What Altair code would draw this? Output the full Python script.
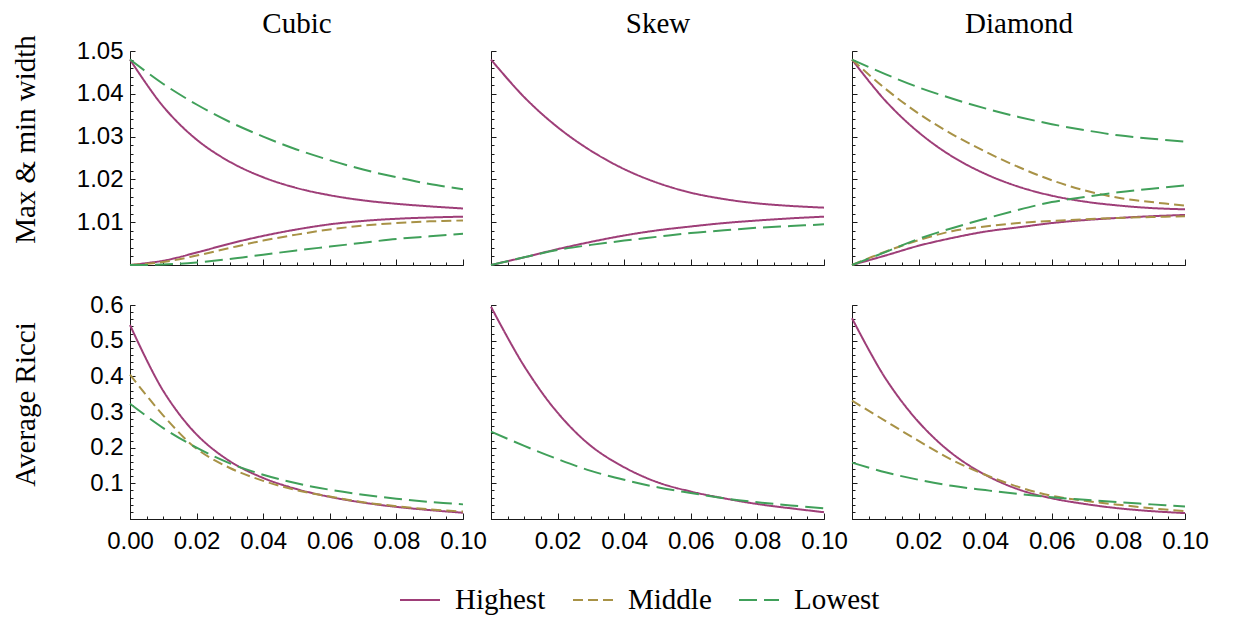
import altair as alt
import pandas as pd

# ---------------- data ----------------
x_vals = [0.00, 0.01, 0.02, 0.03, 0.04, 0.05, 0.06, 0.07, 0.08, 0.09, 0.10]

panels = ["Cubic", "Skew", "Diamond"]
series_names = ["Highest", "Middle", "Lowest"]
row_titles = ["Max & min width", "Average Ricci"]

# Max & min width (upper = max, lower = min)
cubic_highest_max = [1.0480, 1.0370, 1.0293, 1.0241, 1.0205, 1.0180, 1.0163, 1.0151, 1.0143, 1.0137, 1.0132]
cubic_highest_min = [1.0000, 1.0010, 1.0029, 1.0050, 1.0068, 1.0083, 1.0095, 1.0103, 1.0108, 1.0111, 1.0113]
cubic_middle_min = [1.0000, 1.0007, 1.0022, 1.0040, 1.0057, 1.0071, 1.0083, 1.0092, 1.0098, 1.0102, 1.0104]
cubic_lowest_max = [1.0480, 1.0423, 1.0375, 1.0334, 1.0300, 1.0270, 1.0245, 1.0223, 1.0205, 1.0189, 1.0177]
cubic_lowest_min = [1.0000, 1.0001, 1.0006, 1.0014, 1.0024, 1.0034, 1.0043, 1.0052, 1.0061, 1.0067, 1.0073]

skew_highest_max = [1.0480, 1.0392, 1.0322, 1.0267, 1.0224, 1.0192, 1.0169, 1.0154, 1.0144, 1.0138, 1.0134]
skew_highest_min = [1.0000, 1.0018, 1.0037, 1.0054, 1.0069, 1.0081, 1.0090, 1.0098, 1.0104, 1.0109, 1.0113]
skew_lowest_min = [1.0000, 1.0018, 1.0035, 1.0047, 1.0057, 1.0066, 1.0075, 1.0081, 1.0087, 1.0091, 1.0095]

diamond_highest_max = [1.0480, 1.0384, 1.0310, 1.0254, 1.0213, 1.0183, 1.0162, 1.0148, 1.0139, 1.0133, 1.0130]
diamond_highest_min = [1.0000, 1.0022, 1.0045, 1.0063, 1.0078, 1.0088, 1.0098, 1.0105, 1.0110, 1.0114, 1.0117]
diamond_middle_max = [1.0480, 1.0412, 1.0354, 1.0306, 1.0265, 1.0229, 1.0198, 1.0174, 1.0157, 1.0147, 1.0139]
diamond_middle_min = [1.0000, 1.0031, 1.0058, 1.0079, 1.0090, 1.0098, 1.0103, 1.0107, 1.0110, 1.0112, 1.0114]
diamond_lowest_max = [1.0480, 1.0446, 1.0415, 1.0389, 1.0366, 1.0346, 1.0329, 1.0315, 1.0303, 1.0295, 1.0288]
diamond_lowest_min = [1.0000, 1.0030, 1.0061, 1.0086, 1.0108, 1.0129, 1.0147, 1.0159, 1.0170, 1.0178, 1.0186]

# Average Ricci
cubic_highest_ricci = [0.544, 0.359, 0.237, 0.162, 0.115, 0.084, 0.062, 0.046, 0.034, 0.025, 0.0175]
cubic_middle_ricci = [0.405, 0.290, 0.197, 0.143, 0.107, 0.081, 0.063, 0.047, 0.036, 0.027, 0.021]
cubic_lowest_ricci = [0.323, 0.255, 0.200, 0.156, 0.124, 0.100, 0.082, 0.068, 0.057, 0.048, 0.041]

skew_highest_ricci = [0.595, 0.428, 0.298, 0.205, 0.145, 0.103, 0.077, 0.058, 0.042, 0.030, 0.019]
skew_lowest_ricci = [0.245, 0.205, 0.168, 0.135, 0.110, 0.089, 0.073, 0.058, 0.047, 0.038, 0.030]

diamond_highest_ricci = [0.563, 0.395, 0.272, 0.184, 0.124, 0.083, 0.058, 0.042, 0.030, 0.022, 0.0165]
diamond_middle_ricci = [0.332, 0.275, 0.219, 0.166, 0.124, 0.090, 0.065, 0.051, 0.040, 0.030, 0.022]
diamond_lowest_ricci = [0.158, 0.131, 0.110, 0.093, 0.081, 0.070, 0.061, 0.054, 0.047, 0.041, 0.035]

curves = {
    (0, "Cubic"): [("Highest", "max", cubic_highest_max), ("Highest", "min", cubic_highest_min),
                   ("Middle", "min", cubic_middle_min),
                   ("Lowest", "max", cubic_lowest_max), ("Lowest", "min", cubic_lowest_min)],
    (0, "Skew"): [("Highest", "max", skew_highest_max), ("Highest", "min", skew_highest_min),
                  ("Lowest", "min", skew_lowest_min)],
    (0, "Diamond"): [("Highest", "max", diamond_highest_max), ("Highest", "min", diamond_highest_min),
                     ("Middle", "max", diamond_middle_max), ("Middle", "min", diamond_middle_min),
                     ("Lowest", "max", diamond_lowest_max), ("Lowest", "min", diamond_lowest_min)],
    (1, "Cubic"): [("Highest", "avg", cubic_highest_ricci), ("Middle", "avg", cubic_middle_ricci),
                   ("Lowest", "avg", cubic_lowest_ricci)],
    (1, "Skew"): [("Highest", "avg", skew_highest_ricci), ("Lowest", "avg", skew_lowest_ricci)],
    (1, "Diamond"): [("Highest", "avg", diamond_highest_ricci), ("Middle", "avg", diamond_middle_ricci),
                     ("Lowest", "avg", diamond_lowest_ricci)],
}

# tick values
x_major = [0.0, 0.02, 0.04, 0.06, 0.08, 0.10]
x_minor = [round(i * 0.005, 3) for i in range(21)]
y_major_top = [1.00, 1.01, 1.02, 1.03, 1.04, 1.05]
y_minor_top = [round(1.0 + i * 0.002, 3) for i in range(26)]
y_major_bot = [0.0, 0.1, 0.2, 0.3, 0.4, 0.5, 0.6]
y_minor_bot = [round(i * 0.02, 2) for i in range(31)]

# ---------------- styling ----------------
W, H = 333, 214
AX = "#1a1a1a"
SANS = "Liberation Sans"
SERIF = "Liberation Serif"
colors = ["#9E3E78", "#A89246", "#40A05A"]
dashes = [[1, 0], [10, 5], [18, 7]]

legend = alt.Legend(title=None, orient="none", direction="horizontal", legendX=269, legendY=528,
                    symbolType="stroke", symbolSize=1600, symbolStrokeWidth=2,
                    labelFont=SERIF, labelFontSize=29, labelColor="black", labelOffset=14,
                    columnPadding=23, labelLimit=0)


def panel(row, col):
    name = panels[col]
    recs = []
    for s, part, vals in curves[(row, name)]:
        for xv, yv in zip(x_vals, vals):
            recs.append({"x": xv, "y": yv, "series": s, "part": part})
    df = pd.DataFrame(recs)
    top = row == 0
    left = col == 0

    xs = alt.Scale(domain=[0, 0.1], nice=False, zero=False)
    ys = alt.Scale(domain=[1.0, 1.05] if top else [0.0, 0.6], nice=False, zero=False)

    if top:
        x_lab_vals = x_major
    else:
        x_lab_vals = x_major if left else x_major[1:]
    y_lab_vals = y_major_top[1:] if top else y_major_bot[1:]
    y_fmt = ".2f" if top else ".1f"

    x_axis_args = dict(orient="bottom", values=x_lab_vals, format=".2f", labels=not top,
                       ticks=False, tickSize=0, domain=True, domainColor=AX, domainWidth=1,
                       grid=False, labelFont=SANS, labelFontSize=24, labelColor="black",
                       labelPadding=10, labelFlush=False, labelOverlap=False)
    if top:
        x_axis_args.update(title=name, titleX=W / 2, titleY=-(H + 19), titleFont=SERIF,
                           titleFontSize=29, titleFontWeight="normal", titleBaseline="alphabetic",
                           titleAlign="center", titleAngle=0, titleColor="black")
    else:
        x_axis_args.update(title=None)

    y_axis_args = dict(orient="left", values=y_lab_vals, format=y_fmt, labels=left,
                       ticks=False, tickSize=0, domain=True, domainColor=AX, domainWidth=1,
                       grid=False, labelFont=SANS, labelFontSize=24, labelColor="black",
                       labelPadding=7, labelFlush=False, labelOverlap=False)
    if left:
        y_axis_args.update(title=row_titles[row], titleX=-96, titleY=(88 if top else 99),
                           titleFont=SERIF, titleFontSize=29, titleFontWeight="normal",
                           titleBaseline="alphabetic", titleAlign="center", titleAngle=270,
                           titleColor="black")
    else:
        y_axis_args.update(title=None)

    lines = alt.Chart(df).mark_line(strokeWidth=2, interpolate="catmull-rom").encode(
        x=alt.X("x:Q", scale=xs, axis=alt.Axis(**x_axis_args)),
        y=alt.Y("y:Q", scale=ys, axis=alt.Axis(**y_axis_args)),
        color=alt.Color("series:N", scale=alt.Scale(domain=series_names, range=colors), legend=legend),
        strokeDash=alt.StrokeDash("series:N", scale=alt.Scale(domain=series_names, range=dashes),
                                  legend=legend),
        detail="part:N",
    )

    def tick_layer(xv, yv, xsize, ysize):
        return alt.Chart(df).mark_line(strokeOpacity=0).encode(
            x=alt.X("x:Q", scale=xs, axis=alt.Axis(orient="top", offset=-H, values=xv, labels=False,
                                                   ticks=True, tickSize=xsize, tickColor=AX, tickWidth=1,
                                                   domain=False, grid=False, title=None)),
            y=alt.Y("y:Q", scale=ys, axis=alt.Axis(orient="right", offset=-W, values=yv, labels=False,
                                                   ticks=True, tickSize=ysize, tickColor=AX, tickWidth=1,
                                                   domain=False, grid=False, title=None)),
            detail="part:N",
        )

    major = tick_layer(x_major, y_major_top if top else y_major_bot, 6, 5)
    minor = tick_layer(x_minor, y_minor_top if top else y_minor_bot, 3, 3)

    return alt.layer(lines, major, minor).resolve_axis(x="independent", y="independent").properties(
        width=W, height=H)


charts = [panel(r, c) for r in range(2) for c in range(3)]

chart = alt.concat(*charts, columns=3, spacing={"row": 40, "column": 28}, bounds="flush").properties(
    padding={"left": 3, "top": 1, "right": 5, "bottom": 5}
).configure_view(stroke=None)

chart.save("out.html", embed_options={"renderer": "svg", "actions": False})
